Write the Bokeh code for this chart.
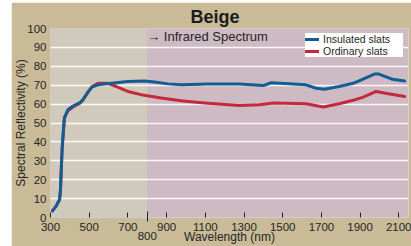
from bokeh.plotting import figure
from bokeh.layouts import row, column
from bokeh.models import (FixedTicker, BoxAnnotation, Legend, LegendItem,
                          Range1d, LinearAxis, Spacer)
from bokeh.embed import file_html
from bokeh.resources import INLINE

# ---------------- data ----------------
wl_insulated = [310, 329, 347, 352, 355, 360, 366, 372, 390, 416, 450, 467, 490,
                514, 545, 614, 700, 786, 837, 907, 975, 1078, 1105, 1276, 1400,
                1440, 1620, 1673, 1715, 1792, 1864, 1906, 1974, 1997, 2068, 2130]
insulated = [3.5, 6, 9.5, 15.5, 24, 36, 45, 53, 57, 59, 60.6, 62.3, 65.8,
             69, 70.2, 71, 71.9, 72.2, 71.7, 70.7, 70.3, 70.5, 70.6, 70.6, 69.8,
             71.3, 70.2, 68.4, 67.9, 69.3, 71, 72.8, 75.9, 75.9, 73.1, 72.2]

wl_ordinary = [310, 329, 347, 352, 355, 360, 366, 372, 390, 416, 450, 467, 490,
               514, 545, 596, 640, 700, 768, 872, 975, 1095, 1276, 1380, 1452,
               1620, 1710, 1792, 1864, 1916, 1983, 2046, 2130]
ordinary = [3.5, 6, 9.5, 15.5, 24, 36, 45, 52.5, 56.5, 58.5, 60.3, 62, 65.8,
            69.2, 71, 71, 69.3, 66.7, 65, 63.2, 61.8, 60.6, 59.2, 59.7, 60.6,
            60.2, 58.5, 60.2, 62, 63.7, 66.7, 65.5, 64]

x_ticks = [300, 500, 700, 900, 1100, 1300, 1500, 1700, 1900, 2100]
y_ticks = [0, 10, 20, 30, 40, 50, 60, 70, 80, 90, 100]
grid_ticks = [10, 20, 30, 40, 50, 60, 70, 80, 90]
infrared_start = 800
x_min, x_max = 300, 2150
y_min, y_max = 0, 100

series_names = ["Insulated slats", "Ordinary slats"]
title_text = "Beige"
spectrum_text = "\u2192 Infrared Spectrum"
x_title = "Wavelength (nm)"
y_title = "Spectral Reflectivity (%)"

# ---------------- styles ----------------
FONT = "Liberation Sans"
OUTER = "#c9ba98"
VISIBLE = "#cfcabb"
INFRARED = "#cdbac2"
BLUE = "#125d93"
RED = "#c3283b"
TXT = "#262626"

p = figure(width=400, height=244,
           x_range=Range1d(x_min, x_max), y_range=Range1d(y_min, y_max),
           output_backend="svg", toolbar_location=None,
           min_border_left=36, min_border_right=3,
           min_border_top=26, min_border_bottom=26)

p.background_fill_color = INFRARED
p.border_fill_color = OUTER
p.outline_line_color = None

p.add_layout(BoxAnnotation(right=infrared_start, fill_color=VISIBLE,
                           fill_alpha=1, line_alpha=0, level="image"))

# title
p.title.text = title_text
p.title.text_font = FONT
p.title.text_font_size = "18px"
p.title.text_font_style = "bold"
p.title.text_color = "#1c1c1c"
p.title.align = "left"
p.title.offset = 140
p.title.standoff = 4

# grid
p.xgrid.visible = False
p.ygrid.ticker = FixedTicker(ticks=grid_ticks)
p.ygrid.grid_line_color = "white"
p.ygrid.grid_line_width = 1.6
p.ygrid.grid_line_alpha = 0.9

# x axis (main labels)
xa = p.xaxis[0]
xa.ticker = FixedTicker(ticks=x_ticks, minor_ticks=[infrared_start])
xa.axis_line_color = None
xa.major_tick_in = 5
xa.major_tick_out = 0
xa.major_tick_line_color = "#222222"
xa.minor_tick_in = 6
xa.minor_tick_out = 4
xa.minor_tick_line_color = "#222222"
xa.major_label_text_font = FONT
xa.major_label_text_font_size = "11.5px"
xa.major_label_text_color = TXT
xa.major_label_standoff = 1

# second x axis: the 800 boundary label and the axis title
xb = LinearAxis(ticker=FixedTicker(ticks=[infrared_start]))
xb.axis_line_color = None
xb.major_tick_line_color = None
xb.major_tick_in = 0
xb.major_tick_out = 0
xb.minor_tick_line_color = None
xb.minor_tick_in = 0
xb.minor_tick_out = 0
xb.major_label_text_font = FONT
xb.major_label_text_font_size = "11.5px"
xb.major_label_text_color = TXT
xb.major_label_standoff = -2
xb.axis_label = x_title
xb.axis_label_text_font = FONT
xb.axis_label_text_font_size = "12px"
xb.axis_label_text_font_style = "normal"
xb.axis_label_text_color = TXT
xb.axis_label_standoff = -13
p.add_layout(xb, "below")

# y axis
ya = p.yaxis[0]
ya.ticker = FixedTicker(ticks=y_ticks)
ya.axis_line_color = None
ya.major_tick_line_color = None
ya.major_tick_in = 0
ya.major_tick_out = 0
ya.minor_tick_line_color = None
ya.minor_tick_in = 0
ya.minor_tick_out = 0
ya.major_label_text_font = FONT
ya.major_label_text_font_size = "11.5px"
ya.major_label_text_color = TXT
ya.major_label_standoff = 4
ya.axis_label = y_title
ya.axis_label_text_font = FONT
ya.axis_label_text_font_size = "12px"
ya.axis_label_text_font_style = "normal"
ya.axis_label_text_color = TXT
ya.axis_label_standoff = -4

# infrared text
p.text(x=[infrared_start], y=[95.8], text=[spectrum_text],
       text_font_size="13px", text_color=TXT,
       text_align="left", text_baseline="middle",
       text_font={"value": FONT})

# lines
r_ord = p.line(wl_ordinary, ordinary, line_color=RED, line_width=3,
               line_join="round", line_cap="round")
r_ins = p.line(wl_insulated, insulated, line_color=BLUE, line_width=3,
               line_join="round", line_cap="round")

legend = Legend(items=[LegendItem(label=series_names[0], renderers=[r_ins]),
                       LegendItem(label=series_names[1], renderers=[r_ord])],
                location="top_right", margin=5, padding=1, spacing=0,
                label_text_font=FONT, label_text_font_size="10.5px",
                label_text_line_height=0.75,
                label_text_color=TXT, label_height=8, glyph_height=8,
                glyph_width=14, label_standoff=4, label_width=80,
                border_line_color=None, background_fill_color="white",
                background_fill_alpha=1)
p.add_layout(legend)

layout = column(Spacer(width=411, height=2),
                row(Spacer(width=11, height=244), p))
open("out.html", "w").write(file_html(layout, INLINE))
